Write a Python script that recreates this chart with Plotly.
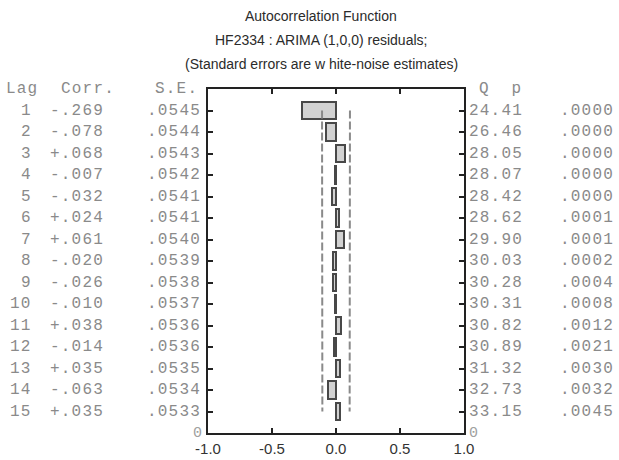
import plotly.graph_objects as go

lags = list(range(1, 16))
corr = [-0.269, -0.078, 0.068, -0.007, -0.032, 0.024, 0.061, -0.020, -0.026, -0.010,
        0.038, -0.014, 0.035, -0.063, 0.035]
se = [0.0545, 0.0544, 0.0543, 0.0542, 0.0541, 0.0541, 0.0540, 0.0539, 0.0538, 0.0537,
      0.0536, 0.0536, 0.0535, 0.0534, 0.0533]
q_stat = [24.41, 26.46, 28.05, 28.07, 28.42, 28.62, 29.90, 30.03, 30.28, 30.31,
          30.82, 30.89, 31.32, 32.73, 33.15]
p_val = [0.0000, 0.0000, 0.0000, 0.0000, 0.0000, 0.0001, 0.0001, 0.0002, 0.0004, 0.0008,
         0.0012, 0.0021, 0.0030, 0.0032, 0.0045]
x_ticks = [-1.0, -0.5, 0.0, 0.5, 1.0]
x_tick_labels = ["-1.0", "-0.5", "0.0", "0.5", "1.0"]
titles = ["Autocorrelation Function",
          "HF2334 : ARIMA (1,0,0) residuals;",
          "(Standard errors are w hite-noise estimates)"]

W, H = 619, 460
L, R, T, B = 208, 464, 89, 433


def xp(px):
    return (px - L) / (R - L)


def yp(py):
    return (B - py) / (B - T)


MONO = "Liberation Mono, Courier New, monospace"
SANS = "Liberation Sans, Arial, sans-serif"
GRAY = "#8a8a8a"


def sp(s):
    return '<span style="letter-spacing:1.2px">' + s + '</span>'


fig = go.Figure()

fig.add_trace(go.Bar(
    x=corr, y=lags, orientation="h", width=0.81,
    marker=dict(color="#d2d2d2", line=dict(color="#484848", width=2)),
    hoverinfo="skip", showlegend=False,
))
fig.add_trace(go.Scatter(
    x=[2 * s for s in se], y=lags, mode="lines",
    line=dict(color="#8a8a8a", width=2, dash="8px,3px"),
    hoverinfo="skip", showlegend=False,
))
fig.add_trace(go.Scatter(
    x=[-2 * s for s in se], y=lags, mode="lines",
    line=dict(color="#8a8a8a", width=2, dash="8px,3px"),
    hoverinfo="skip", showlegend=False,
))

ann = []
mono_font = dict(family=MONO, size=16, color=GRAY)


def fmt_corr(v):
    return f"{v:+.3f}".replace("0.", ".", 1)


def fmt_frac(v):
    return f"{v:.4f}"[1:]


# header row
ann.append(dict(text=sp("Lag"), x=xp(4), y=0, xref="paper", yref="y",
                xanchor="left", yanchor="middle", showarrow=False, font=mono_font))
ann.append(dict(text=sp("Corr."), x=xp(59), y=0, xref="paper", yref="y",
                xanchor="left", yanchor="middle", showarrow=False, font=mono_font))
ann.append(dict(text=sp("S.E."), x=xp(200), y=0, xref="paper", yref="y",
                xanchor="right", yanchor="middle", showarrow=False, font=mono_font))
ann.append(dict(text=sp("Q&nbsp;&nbsp;p"), x=xp(477), y=0, xref="paper", yref="y",
                xanchor="left", yanchor="middle", showarrow=False, font=mono_font))

for i, lag in enumerate(lags):
    ann.append(dict(text=sp(str(lag)), x=xp(34), y=lag, xref="paper", yref="y",
                    xanchor="right", yanchor="middle", showarrow=False, font=mono_font))
    ann.append(dict(text=sp(fmt_corr(corr[i])), x=xp(48), y=lag, xref="paper", yref="y",
                    xanchor="left", yanchor="middle", showarrow=False, font=mono_font))
    ann.append(dict(text=sp(fmt_frac(se[i])), x=xp(203), y=lag, xref="paper", yref="y",
                    xanchor="right", yanchor="middle", showarrow=False, font=mono_font))
    ann.append(dict(text=sp(f"{q_stat[i]:.2f}"), x=xp(467), y=lag, xref="paper", yref="y",
                    xanchor="left", yanchor="middle", showarrow=False, font=mono_font))
    ann.append(dict(text=sp(fmt_frac(p_val[i])), x=xp(616), y=lag, xref="paper", yref="y",
                    xanchor="right", yanchor="middle", showarrow=False, font=mono_font))

# corner zeros
ann.append(dict(text="0", x=xp(204), y=16, xref="paper", yref="y",
                xanchor="right", yanchor="middle", showarrow=False,
                font=dict(family=MONO, size=15, color="#a0a0a0")))
ann.append(dict(text="0", x=xp(467), y=16, xref="paper", yref="y",
                xanchor="left", yanchor="middle", showarrow=False,
                font=dict(family=MONO, size=15, color="#a0a0a0")))

# titles
for k, (t, py) in enumerate(zip(titles, [16, 40, 64])):
    ann.append(dict(text=t, x=xp(321), y=yp(py), xref="paper", yref="paper",
                    xanchor="center", yanchor="middle", showarrow=False,
                    font=dict(family=SANS, size=14, color="#2b2b2b")))

fig.update_layout(
    width=W, height=H,
    margin=dict(l=L, r=W - R, t=T, b=H - B, pad=0, autoexpand=False),
    paper_bgcolor="white", plot_bgcolor="white",
    annotations=ann, showlegend=False, bargap=0,
)
fig.update_xaxes(
    range=[-1, 1], tickvals=x_ticks, ticktext=x_tick_labels,
    ticks="inside", ticklen=5, tickwidth=2, tickcolor="#222",
    showline=True, linewidth=2, linecolor="#222", mirror="ticks",
    showgrid=False, zeroline=False, ticklabelstandoff=1, automargin=False,
    tickfont=dict(family=SANS, size=15, color="#333"),
)
fig.update_yaxes(
    range=[16, 0], tickvals=lags, ticks="inside", ticklen=5, tickwidth=2, tickcolor="#222",
    showticklabels=False, automargin=False,
    showline=True, linewidth=2, linecolor="#222", mirror="ticks",
    showgrid=False, zeroline=False,
)

fig.write_html("out.html")
